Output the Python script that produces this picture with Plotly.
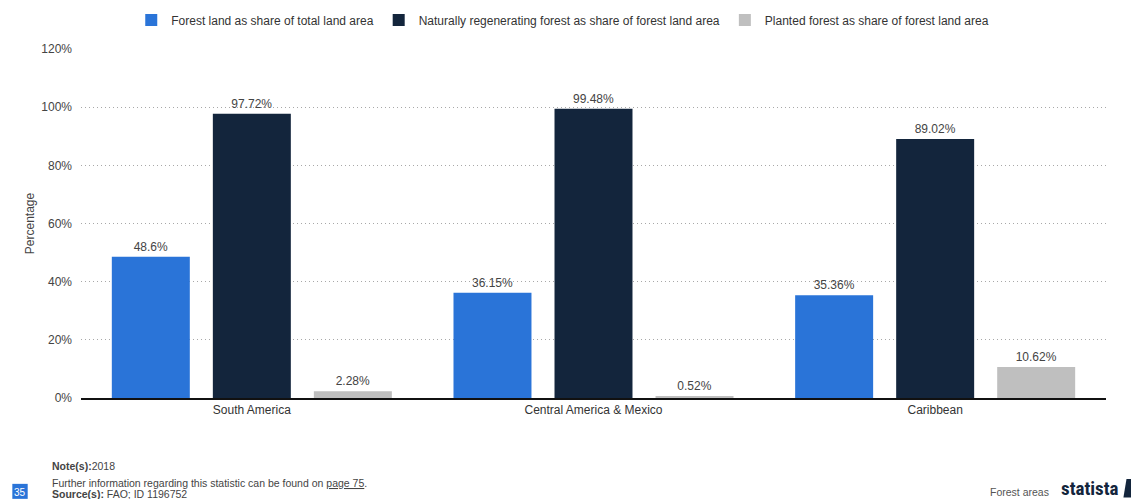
import plotly.graph_objects as go

cat_labels = ["South America", "Central America & Mexico", "Caribbean"]
forest_share = [48.6, 36.15, 35.36]
natural_share = [97.72, 99.48, 89.02]
planted_share = [2.28, 0.52, 10.62]
series_names = ["Forest land as share of total land area",
                "Naturally regenerating forest as share of forest land area",
                "Planted forest as share of forest land area"]
colors = ["#2a74d8", "#13253c", "#bfbfbf"]
tick_vals = [0, 20, 40, 60, 80, 100, 120]
tick_text = ["0%", "20%", "40%", "60%", "80%", "100%", "120%"]

FONT = "Arial, Liberation Sans, sans-serif"

fig = go.Figure()
for name, vals, col in zip(series_names, [forest_share, natural_share, planted_share], colors):
    fig.add_trace(go.Bar(
        x=cat_labels, y=vals, name=name, marker_color=col, marker_line_width=0,
        text=[f"{v:g}%" for v in vals], textposition="outside",
        textfont=dict(size=12, color="#444", family=FONT),
        cliponaxis=False,
    ))

# page body has an 8px margin, so the figure is 8px smaller and offset
fig.update_layout(
    width=1131, height=491,
    margin=dict(l=73, r=33, t=41, b=101, autoexpand=False),
    paper_bgcolor="white", plot_bgcolor="white",
    barmode="group", bargap=0.113, bargroupgap=0.228,
    font=dict(family=FONT, size=12, color="#444"),
    legend=dict(orientation="h", x=0.47, xanchor="center", y=1.083, yanchor="middle",
                font=dict(size=12, color="#333"), itemwidth=30, traceorder="normal"),
    showlegend=True,
)
fig.update_yaxes(range=[0, 120], tickvals=tick_vals, ticktext=tick_text, automargin=False,
                 showgrid=True, gridcolor="#a8a8a8", griddash="1px,3px", gridwidth=1,
                 zeroline=False, showline=False, ticks="", ticklabelstandoff=8,
                 title=dict(text="Percentage", font=dict(size=12, color="#444"), standoff=4),
                 tickfont=dict(size=12, color="#444"))
fig.update_xaxes(showline=True, linecolor="#111", linewidth=2, ticks="", automargin=False,
                 tickfont=dict(size=12, color="#333"))

# footer
FS = 10.5
fig.add_annotation(xref="paper", yref="paper", x=-0.03, y=-0.195, xanchor="left", yanchor="middle",
                   text="<b>Note(s):</b>2018", showarrow=False, font=dict(size=FS, color="#444"))
fig.add_annotation(xref="paper", yref="paper", x=-0.03, y=-0.243, xanchor="left", yanchor="middle",
                   text="Further information regarding this statistic can be found on <u>page 75</u>.",
                   showarrow=False, font=dict(size=FS, color="#444"))
fig.add_annotation(xref="paper", yref="paper", x=-0.03, y=-0.276, xanchor="left", yanchor="middle",
                   text="<b>Source(s):</b> FAO; ID 1196752", showarrow=False, font=dict(size=FS, color="#444"))
fig.add_shape(type="rect", xref="paper", yref="paper", x0=-0.067, x1=-0.052, y0=-0.289, y1=-0.246,
              fillcolor="#2a74d8", line_width=0)
fig.add_annotation(xref="paper", yref="paper", x=-0.0595, y=-0.27, xanchor="center", yanchor="middle",
                   text="35", showarrow=False, font=dict(size=10, color="white"))
fig.add_annotation(xref="paper", yref="paper", x=0.946, y=-0.269, xanchor="right", yanchor="middle",
                   text="Forest areas", showarrow=False, font=dict(size=10.5, color="#555"))
fig.add_annotation(xref="paper", yref="paper", x=1.014, y=-0.258, xanchor="right", yanchor="middle",
                   text="<b>statista</b>", showarrow=False,
                   font=dict(size=19, color="#13253c", family="Liberation Sans Narrow, Roboto Condensed, Arial"))
fig.add_shape(type="path", xref="paper", yref="paper",
              path="M 1.017 -0.285 L 1.02 -0.232 L 1.032 -0.232 L 1.029 -0.285 Z",
              fillcolor="#13253c", line_width=0)

fig.write_html("out.html")
